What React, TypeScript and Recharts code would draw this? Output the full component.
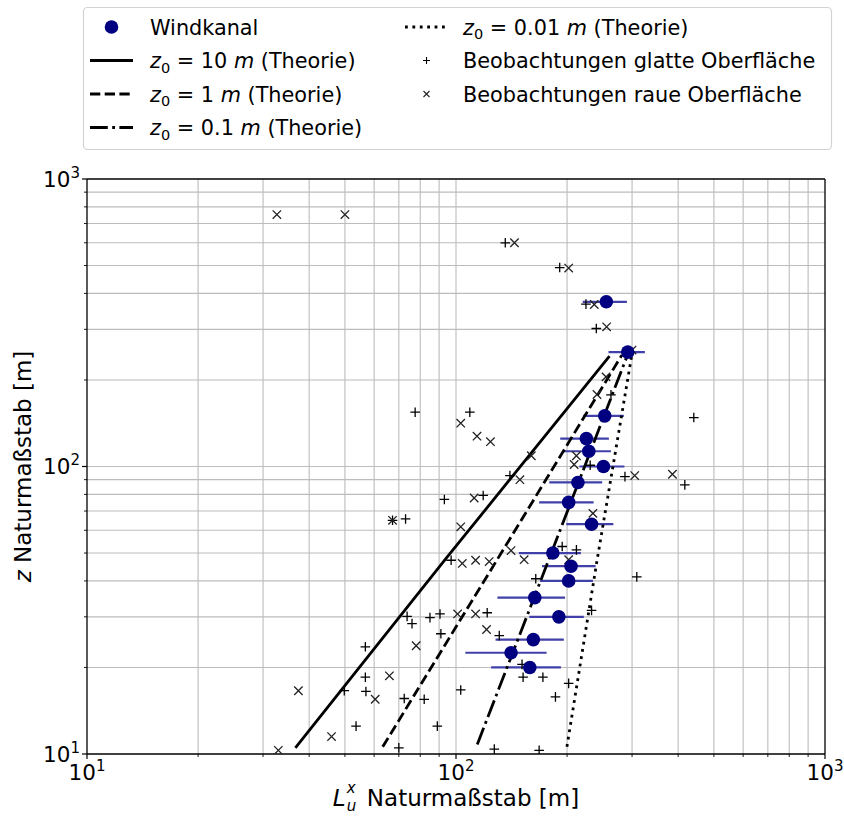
import React from 'react';
import { ScatterChart, Scatter, XAxis, YAxis, ReferenceLine, ErrorBar } from 'recharts';

// ---------- data ----------
const windkanalLx = [255.5, 292, 253, 225.6, 229, 251, 214, 202, 233, 183, 205, 202, 163.5, 190, 162, 141, 158.5];
const windkanalZ = [374, 250, 150, 125, 113, 100, 88, 75, 63, 50, 45, 40, 35, 30, 25, 22.5, 20];
const windkanalErr = [35, 33, 32, 34, 34, 35, 35, 34, 34, 35, 34, 33, 34, 32, 34, 35, 34];

const glatteLx = [136, 191, 225, 240, 263, 77.5, 109, 441, 231, 140, 287, 417, 93, 118.5, 67.3, 73, 194, 212, 97, 164.5, 309, 73.7, 76, 85, 90.5, 121.5, 91, 131, 233, 56.8, 56.8, 49.8, 57, 72.4, 82, 103, 152, 172, 202, 186, 53.6, 89, 70, 127, 168, 151];
const glatteZ = [600, 492, 367, 302, 177.5, 154.5, 154.5, 148, 101, 93, 92.2, 86.3, 76.8, 79.3, 65, 65.7, 52.7, 51.3, 47.2, 40.7, 41.3, 30.1, 28.4, 29.8, 30.7, 31, 26.2, 25.8, 31.6, 23.6, 18.5, 16.6, 16.5, 15.6, 15.5, 16.7, 18.5, 18.5, 17.6, 15.8, 12.5, 12.5, 10.5, 10.4, 10.3, 20.5];

const raueLx = [32.7, 50, 144, 202, 237, 256, 300, 255, 241, 103, 114, 124, 160, 212, 209, 149, 305, 386, 112, 67.3, 103, 235, 141, 153, 104, 113, 123, 202, 101, 113, 121, 78, 66, 37.4, 60.4, 46, 33];
const raueZ = [752, 752, 600, 490, 366, 306, 254, 205, 178, 141.5, 127.5, 122, 109, 109, 101.6, 90, 93, 94, 77.7, 65, 61.7, 68.7, 51, 47.4, 46, 47.2, 46.7, 47.4, 30.7, 30.7, 27.1, 23.8, 18.7, 16.6, 15.5, 11.5, 10.3];

const theorie10Lx = [36.7, 93.4, 260.6];
const theorie10Z = [10.5, 47.4, 242];
const theorie1Lx = [63.3, 139, 281.5];
const theorie1Z = [10.6, 55.2, 244];
const theorie01Lx = [114.2, 178.4, 290.4];
const theorie01Z = [10.8, 47.4, 241];
const theorie001Lx = [199.8, 240.9, 299];
const theorie001Z = [10.6, 46.8, 241];

const tickValues = [10, 20, 30, 40, 50, 60, 70, 80, 90, 100, 200, 300, 400, 500, 600, 700, 800, 900, 1000];
const gridValues = [20, 30, 40, 50, 60, 70, 80, 90, 100, 200, 300, 400, 500, 600, 700, 800, 900];
const majorTicks = [10, 100, 1000];
const majorExponents = ['1', '2', '3'];

const legendLabels = ['Windkanal', 'Beobachtungen glatte Oberfläche', 'Beobachtungen raue Oberfläche'];
const theoryValues = ['10', '1', '0.1', '0.01'];

// ---------- helpers ----------
const pts = (xs: number[], ys: number[]) => xs.map((x, i) => ({ x, y: ys[i] }));
const windData = windkanalLx.map((x, i) => ({ x, y: windkanalZ[i], err: windkanalErr[i] }));

const FONT = "'DejaVu Sans', sans-serif";
const TICK_FS = 21.5;
const SUP_FS = 15;
const W = 844;
const H = 816;

const DASHED = '10.3 4.4';
const DASHDOT = '17.8 4.4 2.8 4.4';
const DOTTED = '2.8 4.6';

const PlusShape = (p: any) => {
  const { cx, cy } = p;
  if (cx == null || cy == null) return <g />;
  const h = 4.8;
  return <path d={`M${cx - h},${cy}H${cx + h}M${cx},${cy - h}V${cy + h}`} stroke="#000" strokeWidth={1.3} fill="none" />;
};
const CrossShape = (p: any) => {
  const { cx, cy } = p;
  if (cx == null || cy == null) return <g />;
  const h = 4.2;
  return <path d={`M${cx - h},${cy - h}L${cx + h},${cy + h}M${cx - h},${cy + h}L${cx + h},${cy - h}`} stroke="#222" strokeWidth={1.3} fill="none" />;
};
const CircleShape = (p: any) => {
  const { cx, cy } = p;
  if (cx == null || cy == null) return <g />;
  return <circle cx={cx} cy={cy} r={6.8} fill="#000080" />;
};
const NoShape = () => <g />;

const XTick = (props: any) => {
  const { x, y, payload } = props;
  const v = payload.value;
  const mi = majorTicks.indexOf(v);
  const major = mi >= 0;
  return (
    <g>
      <line x1={x} x2={x} y1={y} y2={y + (major ? 5 : 3)} stroke="#000" strokeWidth={major ? 1.2 : 0.9} />
      {major && (
        <text x={x} y={y + 26} textAnchor="middle" fontSize={TICK_FS} fontFamily={FONT} fill="#000">
          10<tspan fontSize={SUP_FS} dy={-9}>{majorExponents[mi]}</tspan>
        </text>
      )}
    </g>
  );
};

const YTick = (props: any) => {
  const { x, y, payload } = props;
  const v = payload.value;
  const mi = majorTicks.indexOf(v);
  const major = mi >= 0;
  return (
    <g>
      <line x1={x - (major ? 5 : 3)} x2={x} y1={y} y2={y} stroke="#000" strokeWidth={major ? 1.2 : 0.9} />
      {major && (
        <text x={x - 7} y={y + 7.7} textAnchor="end" fontSize={TICK_FS} fontFamily={FONT} fill="#000">
          10<tspan fontSize={SUP_FS} dy={-9}>{majorExponents[mi]}</tspan>
        </text>
      )}
    </g>
  );
};

const TheoryLabel = ({ x, y, value }: { x: number; y: number; value: string }) => (
  <text x={x} y={y} fontSize={20.8} fontFamily={FONT} fill="#000" style={{ whiteSpace: 'pre' }}>
    <tspan fontStyle="italic">z</tspan>
    <tspan fontSize={14.5} dy={4.5}>0</tspan>
    <tspan dy={-4.5}>{' = ' + value + ' '}</tspan>
    <tspan fontStyle="italic">m</tspan>
    <tspan>{' (Theorie)'}</tspan>
  </text>
);

const Overlay = () => {
  const rows = [27, 60.5, 94, 127.5];
  const c1h = [90, 133];
  const c2h = [405, 448];
  const c1t = 150;
  const c2t = 463;
  const fs = 20.8;
  return (
    <svg width={W} height={H} style={{ position: 'absolute', left: 0, top: 0, pointerEvents: 'none' }}>
      <rect x={83.5} y={7.5} width={748} height={142} rx={4} fill="#fff" fillOpacity={0.9} stroke="#d3d3d3" strokeWidth={1.2} />
      {/* column 1 */}
      <circle cx={(c1h[0] + c1h[1]) / 2} cy={rows[0]} r={6.8} fill="#000080" />
      <text x={c1t} y={rows[0] + 7.5} fontSize={fs} fontFamily={FONT}>{legendLabels[0]}</text>
      <line x1={c1h[0]} x2={c1h[1]} y1={rows[1]} y2={rows[1]} stroke="#000" strokeWidth={2.8} />
      <TheoryLabel x={c1t} y={rows[1] + 7.5} value={theoryValues[0]} />
      <line x1={c1h[0]} x2={c1h[1]} y1={rows[2]} y2={rows[2]} stroke="#000" strokeWidth={2.8} strokeDasharray={DASHED} />
      <TheoryLabel x={c1t} y={rows[2] + 7.5} value={theoryValues[1]} />
      <line x1={c1h[0]} x2={c1h[1]} y1={rows[3]} y2={rows[3]} stroke="#000" strokeWidth={2.8} strokeDasharray={DASHDOT} />
      <TheoryLabel x={c1t} y={rows[3] + 7.5} value={theoryValues[2]} />
      {/* column 2 */}
      <line x1={c2h[0]} x2={c2h[1]} y1={rows[0]} y2={rows[0]} stroke="#000" strokeWidth={2.8} strokeDasharray={DOTTED} />
      <TheoryLabel x={c2t} y={rows[0] + 7.5} value={theoryValues[3]} />
      <path d={`M${426.5 - 3.5},${rows[1]}H${426.5 + 3.5}M426.5,${rows[1] - 3.5}V${rows[1] + 3.5}`} stroke="#000" strokeWidth={1.1} />
      <text x={c2t} y={rows[1] + 7.5} fontSize={fs} fontFamily={FONT}>{legendLabels[1]}</text>
      <path d={`M${426.5 - 3},${rows[2] - 3}L${426.5 + 3},${rows[2] + 3}M${426.5 - 3},${rows[2] + 3}L${426.5 + 3},${rows[2] - 3}`} stroke="#222" strokeWidth={1.1} />
      <text x={c2t} y={rows[2] + 7.5} fontSize={fs} fontFamily={FONT}>{legendLabels[2]}</text>
      {/* axis labels */}
      <text x={456} y={806} textAnchor="middle" fontSize={23} fontFamily={FONT} style={{ whiteSpace: 'pre' }}>
        <tspan fontStyle="italic">L</tspan>
        <tspan fontStyle="italic" fontSize={15} dx={1} dy={5}>u</tspan>
        <tspan fontStyle="italic" fontSize={15} dx={-9.5} dy={-18}>x</tspan>
        <tspan dx={4} dy={13}>{' Naturmaßstab [m]'}</tspan>
      </text>
      <text x={31} y={466.5} transform="rotate(-90, 31, 466.5)" textAnchor="middle" fontSize={23} fontFamily={FONT} style={{ whiteSpace: 'pre' }}>
        <tspan fontStyle="italic">z</tspan>
        <tspan>{' Naturmaßstab [m]'}</tspan>
      </text>
    </svg>
  );
};

export default function App() {
  return (
    <div style={{ position: 'absolute', left: 0, top: 0, width: W, height: H, background: '#fff', fontFamily: FONT }}>
      <div style={{ position: 'absolute', left: 0, top: 0 }}>
        <ScatterChart width={W} height={H} margin={{ top: 179, right: 19, bottom: 22, left: 7 }}>
          {gridValues.map((v) => (
            <ReferenceLine key={'gx' + v} x={v} stroke="#bcbcbc" strokeWidth={1.1} />
          ))}
          {gridValues.map((v) => (
            <ReferenceLine key={'gy' + v} y={v} stroke="#bcbcbc" strokeWidth={1.1} />
          ))}
          <ReferenceLine x={1000} stroke="#000" strokeWidth={1.3} />
          <ReferenceLine y={1000} stroke="#000" strokeWidth={1.3} />
          <XAxis
            type="number"
            dataKey="x"
            scale="log"
            domain={[10, 1000]}
            ticks={tickValues}
            interval={0}
            tick={(p: any) => <XTick {...p} />}
            tickLine={false}
            tickSize={0}
            tickMargin={0}
            axisLine={{ stroke: '#000', strokeWidth: 1.3 }}
            height={40}
            allowDataOverflow
          />
          <YAxis
            type="number"
            dataKey="y"
            scale="log"
            domain={[10, 1000]}
            ticks={tickValues}
            interval={0}
            tick={(p: any) => <YTick {...p} />}
            tickLine={false}
            tickSize={0}
            tickMargin={0}
            axisLine={{ stroke: '#000', strokeWidth: 1.3 }}
            width={80}
            allowDataOverflow
          />
          <Scatter name="z0 = 10 m (Theorie)" data={pts(theorie10Lx, theorie10Z)} fill="#000" line={{ stroke: '#000', strokeWidth: 2.8 }} shape={NoShape} isAnimationActive={false} />
          <Scatter name="z0 = 1 m (Theorie)" data={pts(theorie1Lx, theorie1Z)} fill="#000" line={{ stroke: '#000', strokeWidth: 2.8, strokeDasharray: DASHED }} shape={NoShape} isAnimationActive={false} />
          <Scatter name="z0 = 0.1 m (Theorie)" data={pts(theorie01Lx, theorie01Z)} fill="#000" line={{ stroke: '#000', strokeWidth: 2.8, strokeDasharray: DASHDOT }} shape={NoShape} isAnimationActive={false} />
          <Scatter name="z0 = 0.01 m (Theorie)" data={pts(theorie001Lx, theorie001Z)} fill="#000" line={{ stroke: '#000', strokeWidth: 2.8, strokeDasharray: DOTTED }} shape={NoShape} isAnimationActive={false} />
          <Scatter name={legendLabels[1]} data={pts(glatteLx, glatteZ)} fill="#000" shape={PlusShape} isAnimationActive={false} />
          <Scatter name={legendLabels[2]} data={pts(raueLx, raueZ)} fill="#222" shape={CrossShape} isAnimationActive={false} />
          <Scatter name={legendLabels[0]} data={windData} fill="#000080" shape={CircleShape} isAnimationActive={false}>
            <ErrorBar dataKey="err" direction="x" width={0} stroke="#4040a8" strokeWidth={2.2} />
          </Scatter>
        </ScatterChart>
      </div>
      <Overlay />
    </div>
  );
}
